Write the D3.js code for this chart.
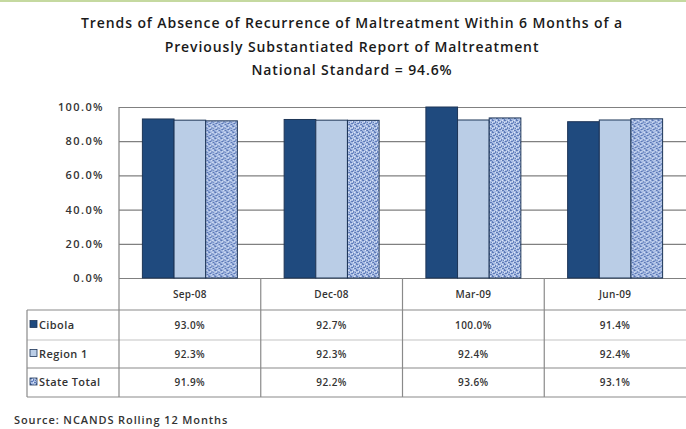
<!DOCTYPE html>
<html>
<head>
<meta charset="utf-8">
<script src="https://cdn.jsdelivr.net/npm/d3@7"></script>
<style>
  body { margin: 0; background: #fff; }
  svg { display: block; font-family: "Open Sans", sans-serif; }
</style>
</head>
<body>
<svg id="chart" width="686" height="429"></svg>
<script>
// chart data
const categories = ["Sep-08", "Dec-08", "Mar-09", "Jun-09"];
const seriesNames = ["Cibola", "Region 1", "State Total"];
const cibola = [93.0, 92.7, 100.0, 91.4];
const region1 = [92.3, 92.3, 92.4, 92.4];
const stateTotal = [91.9, 92.2, 93.6, 93.1];
const yTicks = [0, 20, 40, 60, 80, 100];
const titleLines = [
  "Trends of Absence of Recurrence of Maltreatment Within 6 Months of a",
  "Previously Substantiated Report of Maltreatment",
  "National Standard = 94.6%"
];
const sourceText = "Source: NCANDS Rolling 12 Months";

const seriesValues = [cibola, region1, stateTotal];

const svg = d3.select("#chart");
const margin = { left: 119, right: 686, top: 107, bottom: 278 };

// state total texture
const defs = svg.append("defs");
const pat = defs.append("pattern")
  .attr("id", "speckle")
  .attr("patternUnits", "userSpaceOnUse")
  .attr("width", 6).attr("height", 6);
pat.append("rect").attr("width", 6).attr("height", 6).attr("fill", "#a9bde5");
[[0,0,2,1],[3,1,1,2],[1,3,2,1],[4,4,2,1],[0,5,1,1],[5,2,1,1]].forEach(d => {
  pat.append("rect").attr("x", d[0]).attr("y", d[1]).attr("width", d[2]).attr("height", d[3])
    .attr("fill", "#5a77b4");
});
[[2,1,1,1],[4,0,1,1],[0,2,1,1],[3,4,1,1]].forEach(d => {
  pat.append("rect").attr("x", d[0]).attr("y", d[1]).attr("width", d[2]).attr("height", d[3])
    .attr("fill", "#e4ecf8");
});

const fills = ["#1f4a7e", "#bacde6", "url(#speckle)"];

// top green border
svg.append("rect").attr("x", 0).attr("y", 0).attr("width", 686).attr("height", 2).attr("fill", "#c5d9a0");

// title
svg.append("g").selectAll("text")
  .data(titleLines)
  .enter().append("text")
  .attr("x", 352)
  .attr("y", (d, i) => [28, 52, 75][i])
  .attr("text-anchor", "middle")
  .attr("font-size", 14)
  .attr("font-weight", 600)
  .attr("letter-spacing", 0.9)
  .attr("fill", "#1a1a1a")
  .text(d => d);

const x0 = d3.scaleBand()
  .domain(categories)
  .range([margin.left, margin.right])
  .paddingInner(0.33)
  .paddingOuter(0.165);

const x1 = d3.scaleBand()
  .domain(d3.range(seriesNames.length))
  .range([0, x0.bandwidth()]);

const y = d3.scaleLinear()
  .domain([0, 100])
  .range([margin.bottom, margin.top]);

// grid lines
svg.append("g")
  .call(d3.axisLeft(y).tickValues(yTicks).tickSize(-(margin.right - margin.left)).tickFormat(d => d.toFixed(1) + "%"))
  .attr("transform", "translate(" + margin.left + ",0)")
  .call(g => g.select(".domain").remove())
  .call(g => g.selectAll(".tick line").attr("stroke", "#808080").attr("stroke-width", 1.2))
  .call(g => g.selectAll(".tick text")
    .attr("x", -15)
    .attr("font-family", "Open Sans, sans-serif")
    .attr("font-size", 11)
    .attr("font-weight", 600)
    .attr("letter-spacing", 1.4)
    .attr("fill", "#333"));

// plot area left edge
svg.append("line")
  .attr("x1", margin.left).attr("x2", margin.left)
  .attr("y1", margin.top).attr("y2", margin.bottom)
  .attr("stroke", "#808080").attr("stroke-width", 1.2);

// bars
const groups = svg.append("g").selectAll("g")
  .data(categories)
  .enter().append("g")
  .attr("transform", d => "translate(" + x0(d) + ",0)");

groups.selectAll("rect")
  .data((d, i) => seriesValues.map((vals, s) => ({ s: s, v: vals[i] })))
  .enter().append("rect")
  .attr("x", d => x1(d.s))
  .attr("y", d => y(d.v))
  .attr("width", x1.bandwidth())
  .attr("height", d => y(0) - y(d.v))
  .attr("fill", d => fills[d.s])
  .attr("stroke", "#1d3557")
  .attr("stroke-width", 1);

// data table
const rowTops = [278, 310, 340, 368, 397];
const tableLeft = 27;
const tbl = svg.append("g");
const lineColor = "#8a8a8a";

// horizontal lines
[310, 340, 368, 397].forEach(yy => {
  tbl.append("line").attr("x1", tableLeft).attr("x2", 686).attr("y1", yy).attr("y2", yy)
    .attr("stroke", yy === 340 ? "#c4c4c4" : lineColor).attr("stroke-width", 1.2);
});
// vertical lines
tbl.append("line").attr("x1", tableLeft).attr("x2", tableLeft).attr("y1", 310).attr("y2", 397)
  .attr("stroke", lineColor).attr("stroke-width", 1.2);
categories.forEach(c => {
  const xx = x0(c) - x0.step() * x0.paddingInner() / 2;
  tbl.append("line").attr("x1", xx).attr("x2", xx).attr("y1", 278).attr("y2", 397)
    .attr("stroke", lineColor).attr("stroke-width", 1.2);
});

// header row
tbl.selectAll("text.cat")
  .data(categories)
  .enter().append("text")
  .attr("class", "cat")
  .attr("x", d => x0(d) + x0.bandwidth() / 2)
  .attr("y", 298)
  .attr("text-anchor", "middle")
  .attr("font-size", 10)
  .attr("font-weight", 600)
  .attr("letter-spacing", 0.3)
  .attr("fill", "#333")
  .text(d => d);

// series rows
seriesNames.forEach((name, s) => {
  const cy = (rowTops[s + 1] + rowTops[s + 2]) / 2;
  tbl.append("rect")
    .attr("x", 30).attr("y", cy - 4.5).attr("width", 7).attr("height", 7)
    .attr("fill", fills[s]).attr("stroke", "#1d3557").attr("stroke-width", 0.8);
  tbl.append("text")
    .attr("x", 39).attr("y", cy + 3.5)
    .attr("font-size", 11).attr("font-weight", 600).attr("fill", "#333")
    .attr("letter-spacing", 0.4)
    .text(name);
  tbl.selectAll("text.v" + s)
    .data(seriesValues[s])
    .enter().append("text")
    .attr("class", "v" + s)
    .attr("x", (d, i) => x0(categories[i]) + x0.bandwidth() / 2)
    .attr("y", cy + 3.5)
    .attr("text-anchor", "middle")
    .attr("font-size", 10)
    .attr("font-weight", 600)
    .attr("letter-spacing", 0.4)
    .attr("fill", "#333")
    .text(d => d.toFixed(1) + "%");
});

// source
svg.append("text")
  .attr("x", 14).attr("y", 424)
  .attr("font-size", 11).attr("font-weight", 600).attr("fill", "#333")
  .attr("letter-spacing", 0.9)
  .text(sourceText);
</script>
</body>
</html>
